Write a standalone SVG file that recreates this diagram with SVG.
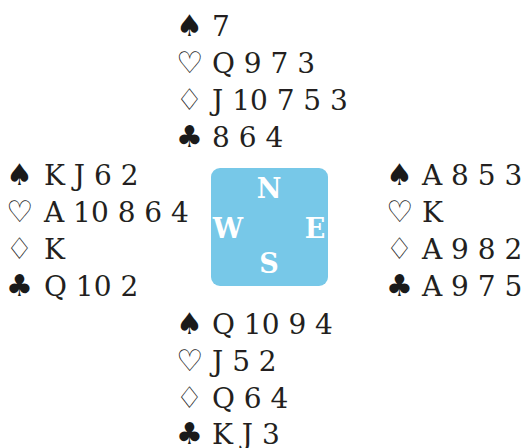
<svg xmlns="http://www.w3.org/2000/svg" width="526" height="448" viewBox="0 0 526 448">
<style>
.s{font-family:"DejaVu Sans",sans-serif;font-size:30px;fill:#1a1a1a}
.c{font-family:"DejaVu Serif","Liberation Serif",serif;font-size:28px;fill:#231f20}
.d{font-family:"DejaVu Serif","Liberation Serif",serif;font-size:27px;font-weight:bold;fill:#ffffff;text-anchor:middle}
</style>
<rect width="526" height="448" fill="#ffffff"/>
<g id="north">
<text class="s" x="176" y="36">♠</text><text class="c" x="212" y="36">7</text>
<text class="s" x="176" y="73">♡</text><text class="c" x="212" y="73">Q 9 7 3</text>
<text class="s" x="176" y="110">♢</text><text class="c" x="212" y="110">J 10 7 5 3</text>
<text class="s" x="176" y="147">♣</text><text class="c" x="212" y="147">8 6 4</text>
</g>
<g id="west">
<text class="s" x="6" y="185">♠</text><text class="c" x="44" y="185">K J 6 2</text>
<text class="s" x="6" y="222">♡</text><text class="c" x="44" y="222">A 10 8 6 4</text>
<text class="s" x="6" y="259">♢</text><text class="c" x="44" y="259">K</text>
<text class="s" x="6" y="296">♣</text><text class="c" x="44" y="296">Q 10 2</text>
</g>
<g id="east">
<text class="s" x="386" y="185">♠</text><text class="c" x="422" y="185">A 8 5 3</text>
<text class="s" x="386" y="222">♡</text><text class="c" x="422" y="222">K</text>
<text class="s" x="386" y="259">♢</text><text class="c" x="422" y="259">A 9 8 2</text>
<text class="s" x="386" y="296">♣</text><text class="c" x="422" y="296">A 9 7 5</text>
</g>
<g id="south">
<text class="s" x="176" y="334">♠</text><text class="c" x="212" y="334">Q 10 9 4</text>
<text class="s" x="176" y="371">♡</text><text class="c" x="212" y="371">J 5 2</text>
<text class="s" x="176" y="408">♢</text><text class="c" x="212" y="408">Q 6 4</text>
<text class="s" x="176" y="444">♣</text><text class="c" x="212" y="444">K J 3</text>
</g>
<g id="compass">
<rect x="211" y="168" width="117" height="118" rx="9" fill="#77c8e8"/>
<text class="d" x="269" y="198">N</text>
<text class="d" x="228" y="238">W</text>
<text class="d" x="315" y="238">E</text>
<text class="d" x="269" y="273">S</text>
</g>
<g id="connectors"/>
</svg>
